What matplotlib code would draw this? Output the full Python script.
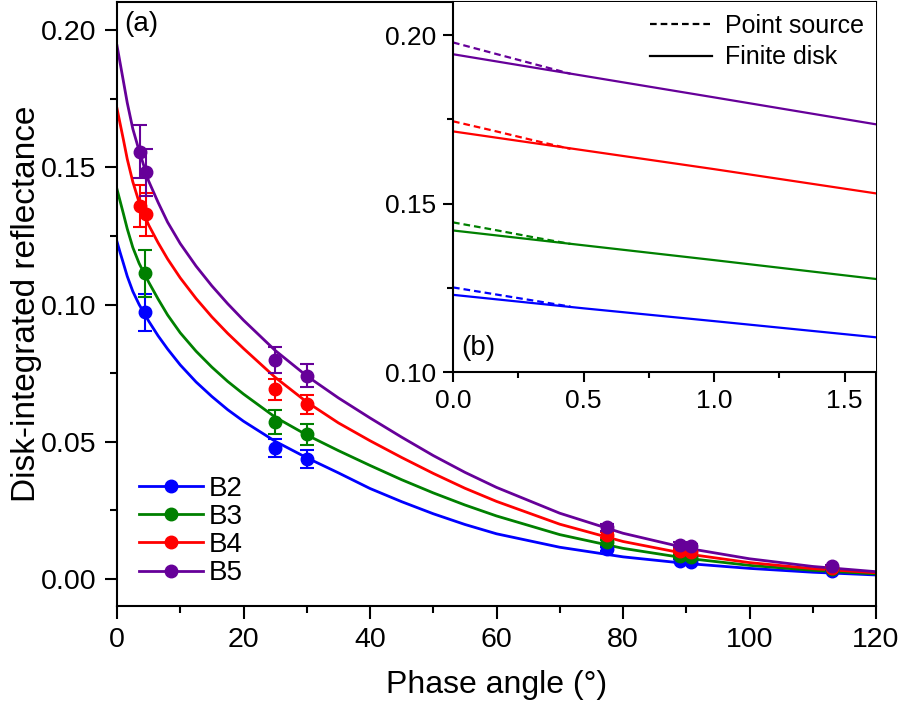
import matplotlib
matplotlib.use("Agg")
import matplotlib.pyplot as plt
from matplotlib.ticker import MultipleLocator
from matplotlib.lines import Line2D

plt.rcParams['font.family'] = ['Liberation Sans', 'DejaVu Sans']

# ---------------- data ----------------
bands = ["B2", "B3", "B4", "B5"]
colors = ["#0000FF", "#008000", "#FF0000", "#660099"]

# observed points
phase_b2 = [4.5, 25.0, 30.0, 77.4, 89.0, 90.7, 113.0]
refl_b2 = [0.0972, 0.0478, 0.0437, 0.0109, 0.0067, 0.0063, 0.0030]
err_b2 = [0.0068, 0.0032, 0.0032, 0.0008, 0.0006, 0.0006, 0.0004]

phase_b3 = [4.5, 25.0, 30.0, 77.4, 89.0, 90.7, 113.0]
refl_b3 = [0.1114, 0.0573, 0.0527, 0.0135, 0.0085, 0.0080, 0.0035]
err_b3 = [0.0085, 0.0044, 0.0037, 0.0009, 0.0007, 0.0007, 0.0004]

phase_b4 = [3.6, 4.6, 25.0, 30.0, 77.4, 89.0, 90.7, 113.0]
refl_b4 = [0.1359, 0.1328, 0.0691, 0.0636, 0.0160, 0.0103, 0.0098, 0.0041]
err_b4 = [0.0077, 0.0078, 0.0037, 0.0036, 0.0010, 0.0008, 0.0008, 0.0005]

phase_b5 = [3.6, 4.6, 25.0, 30.0, 77.4, 89.0, 90.7, 113.0]
refl_b5 = [0.1557, 0.1481, 0.0798, 0.0741, 0.0188, 0.0126, 0.0120, 0.0047]
err_b5 = [0.0096, 0.0086, 0.0046, 0.0042, 0.0012, 0.0009, 0.0009, 0.0005]

# model curves (finite disk), sampled
curve_phase = [0, 0.5, 1, 1.62, 2.5, 3.5, 5, 6.5, 8, 10, 12.5, 15, 17.5, 20,
               25, 30, 35, 40, 45, 50, 55, 60, 70, 80, 90, 100, 110, 120]
curve_b2 = [0.1229, 0.1189, 0.1151, 0.1103, 0.1048, 0.1000, 0.0940, 0.0886,
            0.0838, 0.0780, 0.0718, 0.0665, 0.0617, 0.0575, 0.0502, 0.0442,
            0.0387, 0.0330, 0.0282, 0.0238, 0.0199, 0.0165, 0.0116, 0.0081,
            0.0057, 0.0039, 0.0025, 0.0015]
curve_b3 = [0.1420, 0.1376, 0.1332, 0.1276, 0.1208, 0.1150, 0.1082, 0.1020,
            0.0962, 0.0897, 0.0830, 0.0772, 0.0720, 0.0674, 0.0590, 0.0525,
            0.0468, 0.0414, 0.0362, 0.0314, 0.0270, 0.0230, 0.0162, 0.0112,
            0.0076, 0.0050, 0.0032, 0.0019]
curve_b4 = [0.1714, 0.1658, 0.1602, 0.1530, 0.1447, 0.1372, 0.1290, 0.1225,
            0.1166, 0.1097, 0.1022, 0.0955, 0.0895, 0.0840, 0.0735, 0.0645,
            0.0569, 0.0504, 0.0443, 0.0385, 0.0331, 0.0283, 0.0200, 0.0137,
            0.0092, 0.0060, 0.0038, 0.0023]
curve_b5 = [0.1943, 0.1879, 0.1815, 0.1735, 0.1640, 0.1560, 0.1450, 0.1372,
            0.1300, 0.1222, 0.1140, 0.1068, 0.1003, 0.0943, 0.0833, 0.0740,
            0.0660, 0.0587, 0.0517, 0.0450, 0.0389, 0.0334, 0.0240, 0.0167,
            0.0113, 0.0074, 0.0046, 0.0027]

# point-source model near zero phase
ps_phase = [0, 0.15, 0.3, 0.45]
ps_b2 = [0.1251, 0.1232, 0.1213, 0.1194]
ps_b3 = [0.1444, 0.1423, 0.1401, 0.1380]
ps_b4 = [0.1744, 0.1717, 0.1689, 0.1662]
ps_b5 = [0.1978, 0.1947, 0.1916, 0.1885]

phases = [phase_b2, phase_b3, phase_b4, phase_b5]
refls = [refl_b2, refl_b3, refl_b4, refl_b5]
errs = [err_b2, err_b3, err_b4, err_b5]
curves = [curve_b2, curve_b3, curve_b4, curve_b5]
pss = [ps_b2, ps_b3, ps_b4, ps_b5]

# ---------------- figure ----------------
W, H = 900, 702
fig = plt.figure(figsize=(W / 100, H / 100), dpi=100)

def rect(l, t, r, b):
    return [l / W, 1 - b / H, (r - l) / W, (b - t) / H]

ax = fig.add_axes(rect(117, 2, 876, 606))
for i in range(4):
    ax.plot(curve_phase, curves[i], color=colors[i], lw=2.0, zorder=2)
for i in range(4):
    ax.errorbar(phases[i], refls[i], yerr=errs[i], fmt='o', color=colors[i],
                ms=9, capsize=5, elinewidth=1.5, capthick=1.5, zorder=3)

ax.set_xlim(0, 120)
ax.set_ylim(-0.0098, 0.2102)
ax.xaxis.set_major_locator(MultipleLocator(20))
ax.xaxis.set_minor_locator(MultipleLocator(10))
ax.yaxis.set_major_locator(MultipleLocator(0.05))
ax.yaxis.set_minor_locator(MultipleLocator(0.025))
ax.yaxis.set_major_formatter(matplotlib.ticker.FormatStrFormatter('%.2f'))
ax.tick_params(which='both', direction='out', width=1.5, labelsize=20.5)
ax.tick_params(which='major', length=9, pad=6)
ax.tick_params(which='minor', length=5)
ax.tick_params(top=False, right=False)
for s in ax.spines.values():
    s.set_linewidth(1.5)
ax.set_xlabel("Phase angle (°)", fontsize=23, labelpad=12)
ax.set_ylabel("Disk-integrated reflectance", fontsize=24, labelpad=-1)
ax.text(0.01, 0.985, "(a)", transform=ax.transAxes, fontsize=20,
        ha='left', va='top')

handles = [Line2D([], [], color=c, lw=2.0, marker='o', ms=9) for c in colors]
ax.legend(handles, bands, loc='lower left', bbox_to_anchor=(0.015, 0.014),
          frameon=False, fontsize=20, handlelength=2.3, handletextpad=0.2,
          labelspacing=0.08, borderaxespad=0)

# ---------------- inset ----------------
axi = fig.add_axes(rect(453, 2, 876, 372))
axi.set_zorder(5)
axi.patch.set_facecolor('white')
for i in range(4):
    axi.plot(ps_phase, pss[i], color=colors[i], lw=1.6, ls=(0, (3, 1.8)))
    axi.plot(curve_phase, curves[i], color=colors[i], lw=1.6)
axi.set_xlim(0, 1.62)
axi.set_ylim(0.10, 0.2098)
axi.xaxis.set_major_locator(MultipleLocator(0.5))
axi.xaxis.set_minor_locator(MultipleLocator(0.25))
axi.yaxis.set_major_locator(MultipleLocator(0.05))
axi.yaxis.set_minor_locator(MultipleLocator(0.025))
axi.yaxis.set_major_formatter(matplotlib.ticker.FormatStrFormatter('%.2f'))
axi.xaxis.set_major_formatter(matplotlib.ticker.FormatStrFormatter('%.1f'))
axi.tick_params(which='both', direction='out', width=1.5, labelsize=19)
axi.tick_params(which='major', length=7, pad=5)
axi.tick_params(which='minor', length=4)
axi.spines['top'].set_visible(False)
axi.spines['right'].set_visible(False)
for s in axi.spines.values():
    s.set_linewidth(1.5)
axi.text(0.02, 0.03, "(b)", transform=axi.transAxes, fontsize=20,
         ha='left', va='bottom')
ih = [Line2D([], [], color='black', lw=1.6, ls=(0, (3, 1.8))),
      Line2D([], [], color='black', lw=1.6)]
axi.legend(ih, ["Point source", "Finite disk"], loc='upper right',
           bbox_to_anchor=(0.995, 0.995), frameon=False, fontsize=18,
           handlelength=2.5, handletextpad=0.5, labelspacing=0.3,
           borderaxespad=0)

fig.savefig("out.png", dpi=100)
